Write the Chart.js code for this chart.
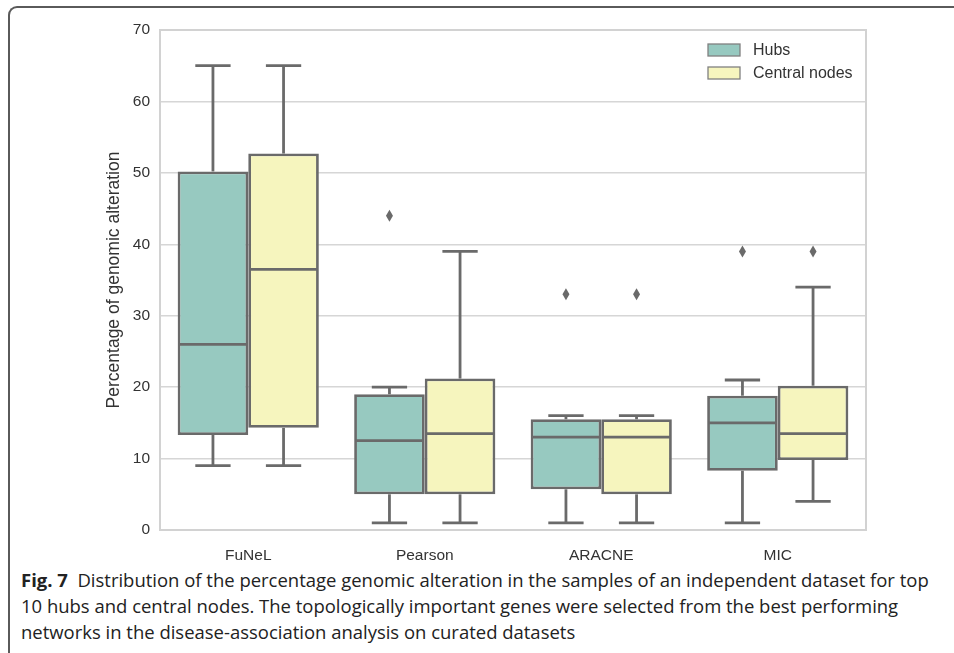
<!DOCTYPE html>
<html>
<head>
<meta charset="utf-8">
<script src="https://cdn.jsdelivr.net/npm/chart.js@4.4.1/dist/chart.umd.min.js"></script>
<style>
    html, body { margin: 0; padding: 0; background: #fff; width: 954px; height: 653px; overflow: hidden; }
    #frame {
        position: absolute; left: 8px; top: 6px; width: 1000px; height: 700px;
        border-top: 2px solid #5a5a5a; border-left: 2px solid #5a5a5a;
        border-top-left-radius: 9px; box-sizing: border-box;
    }
    #wrap { position: absolute; left: 0; top: 0; width: 954px; height: 560px; }
    #caption {
        position: absolute; left: 21px; top: 567px;
        font-family: "Open Sans", sans-serif; font-size: 18px; color: #222;
    }
    #caption div { white-space: nowrap; height: 26px; line-height: 26px; transform-origin: 0 50%; }
    #caption b { font-weight: 700; }
</style>
</head>
<body>
<div id="frame"></div>
<div id="wrap"><canvas id="boxChart" width="954" height="560"></canvas></div>
<div id="caption">
    <div><b>Fig. 7</b>&nbsp; Distribution of the percentage genomic alteration in the samples of an independent dataset for top</div>
    <div>10 hubs and central nodes. The topologically important genes were selected from the best performing</div>
    <div>networks in the disease-association analysis on curated datasets</div>
</div>
<script>
// values
const categories = ['FuNeL', 'Pearson', 'ARACNE', 'MIC'];
const groupLabels = ['Hubs', 'Central nodes'];

const hubsWhislo   = [9, 1, 1, 1];
const hubsQ1       = [13.3, 5, 5.7, 8.3];
const hubsMedian   = [26, 12.5, 13, 15];
const hubsQ3       = [50.2, 19, 15.5, 18.8];
const hubsWhishi   = [65, 20, 16, 21];
const hubsOutliers = [[], [44], [33], [39]];

const centralWhislo   = [9, 1, 1, 4];
const centralQ1       = [14.3, 5, 5, 9.8];
const centralMedian   = [36.5, 13.5, 13, 13.5];
const centralQ3       = [52.7, 21.2, 15.5, 20.2];
const centralWhishi   = [65, 39, 16, 34];
const centralOutliers = [[], [], [33], [39]];

const yTicks = [0, 10, 20, 30, 40, 50, 60, 70];

const LINE = '#6a6a6a';
const FILLS = ['#97c9c0', '#f6f5be'];
const FONT = '"Liberation Sans", Arial, sans-serif';

function makeStats(lo, q1, med, q3, hi, out) {
    return categories.map((c, i) => ({ lo: lo[i], q1: q1[i], med: med[i], q3: q3[i], hi: hi[i], out: out[i] }));
}
const stats = [
    makeStats(hubsWhislo, hubsQ1, hubsMedian, hubsQ3, hubsWhishi, hubsOutliers),
    makeStats(centralWhislo, centralQ1, centralMedian, centralQ3, centralWhishi, centralOutliers)
];

// whiskers, medians, fliers, plot frame and legend
const boxPlugin = {
    id: 'boxExtras',
    beforeDatasetsDraw(chart) {
        const a = chart.chartArea, ctx = chart.ctx;
        ctx.save();
        ctx.strokeStyle = '#d2d2d2';
        ctx.lineWidth = 2;
        ctx.strokeRect(a.left, a.top, a.right - a.left, a.bottom - a.top);
        ctx.restore();
    },
    afterDatasetsDraw(chart) {
        const ctx = chart.ctx, y = chart.scales.y;
        ctx.save();
        ctx.strokeStyle = LINE;
        ctx.fillStyle = LINE;
        ctx.lineWidth = 2.8;
        stats.forEach((group, d) => {
            const meta = chart.getDatasetMeta(d);
            meta.data.forEach((bar, i) => {
                const s = group[i];
                const x = bar.x, w = bar.width;
                const half = w / 2 - 1.4;
                const cap = w / 4;
                const line = (x1, y1, x2, y2) => { ctx.beginPath(); ctx.moveTo(x1, y1); ctx.lineTo(x2, y2); ctx.stroke(); };
                // median
                line(x - half, y.getPixelForValue(s.med), x + half, y.getPixelForValue(s.med));
                // whiskers
                line(x, y.getPixelForValue(s.q3), x, y.getPixelForValue(s.hi));
                line(x, y.getPixelForValue(s.q1), x, y.getPixelForValue(s.lo));
                line(x - cap, y.getPixelForValue(s.hi), x + cap, y.getPixelForValue(s.hi));
                line(x - cap, y.getPixelForValue(s.lo), x + cap, y.getPixelForValue(s.lo));
                // fliers (thin diamonds)
                s.out.forEach(v => {
                    const py = y.getPixelForValue(v);
                    ctx.beginPath();
                    ctx.moveTo(x, py - 6);
                    ctx.lineTo(x + 3.5, py);
                    ctx.lineTo(x, py + 6);
                    ctx.lineTo(x - 3.5, py);
                    ctx.closePath();
                    ctx.fill();
                });
            });
        });
        ctx.restore();
    },
    afterDraw(chart) {
        const ctx = chart.ctx, a = chart.chartArea;
        ctx.save();
        ctx.font = '16px ' + FONT;
        ctx.textBaseline = 'middle';
        groupLabels.forEach((lab, k) => {
            const sx = a.right - 158, sy = a.top + 14 + k * 23;
            ctx.fillStyle = FILLS[k];
            ctx.fillRect(sx, sy, 32, 12);
            ctx.strokeStyle = '#808080';
            ctx.lineWidth = 1.3;
            ctx.strokeRect(sx, sy, 32, 12);
            ctx.fillStyle = '#333';
            ctx.fillText(lab, sx + 45, sy + 6.5);
        });
        ctx.restore();
    }
};

const ctx = document.getElementById('boxChart').getContext('2d');
new Chart(ctx, {
    type: 'bar',
    data: {
        labels: categories,
        datasets: stats.map((group, d) => ({
            label: groupLabels[d],
            data: group.map(s => [s.q1, s.q3]),
            backgroundColor: FILLS[d],
            borderColor: LINE,
            borderWidth: 2.8,
            borderSkipped: false,
            categoryPercentage: 0.8,
            barPercentage: 1.0
        }))
    },
    options: {
        responsive: false,
        animation: false,
        layout: { padding: { top: 30, right: 88, bottom: 0, left: 0 } },
        plugins: { legend: { display: false }, tooltip: { enabled: false } },
        scales: {
            x: {
                grid: { display: false },
                border: { display: false },
                ticks: { color: '#333', font: { family: FONT, size: 15.5 }, padding: 8 },
                afterFit(scale) { scale.height = 30; }
            },
            y: {
                min: 0, max: 70,
                afterBuildTicks(scale) { scale.ticks = yTicks.map(v => ({ value: v })); },
                grid: { color: '#d6d6d6', lineWidth: 1.5, drawTicks: false },
                border: { display: false },
                ticks: { color: '#333', font: { family: FONT, size: 15.5 }, padding: 10 },
                title: {
                    display: true,
                    text: 'Percentage of genomic alteration',
                    color: '#333',
                    font: { family: FONT, size: 17.5 },
                    padding: { top: 104, bottom: 0 }
                },
                afterFit(scale) { scale.width = 160; }
            }
        }
    },
    plugins: [boxPlugin]
});

// squeeze caption lines to the figure's text width
const lines = document.querySelectorAll('#caption div');
const k = 908 / lines[0].scrollWidth;
lines.forEach(l => { l.style.transform = 'scaleX(' + k + ')'; });
</script>
</body>
</html>
